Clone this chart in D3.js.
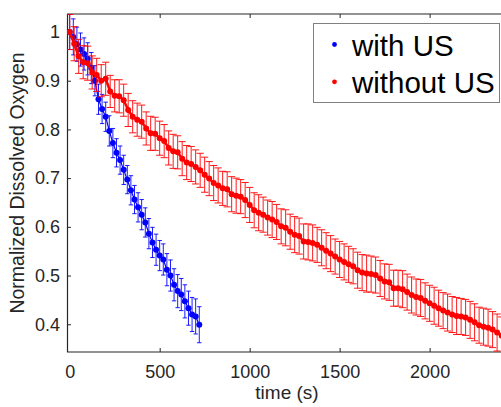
<!DOCTYPE html>
<meta charset="utf-8">
<style>
    html, body { margin: 0; padding: 0; background: #fff; }
    svg { display: block; }
    text { font-family: Arial, "Liberation Sans", sans-serif; }
</style>
<body>
<svg width="501" height="407"></svg>
<script src="https://cdn.jsdelivr.net/npm/d3@7"></script>
<script>
    // with US
    const blueTime = [0, 20, 40, 60, 80, 100, 120, 140, 160, 180, 200, 220, 240, 260, 280, 300, 320, 340, 360,
        380, 400, 420, 440, 460, 480, 500, 520, 540, 560, 580, 600, 620, 640, 660, 680, 700, 720];
    const blueMean = [1.000, 0.990, 0.975, 0.964, 0.955, 0.945, 0.926, 0.900, 0.862, 0.842, 0.826, 0.797, 0.772,
        0.752, 0.737, 0.717, 0.697, 0.675, 0.656, 0.640, 0.625, 0.609, 0.586, 0.568, 0.553, 0.541, 0.533, 0.512,
        0.500, 0.481, 0.468, 0.461, 0.447, 0.433, 0.420, 0.416, 0.399];
    const blueErr = [0.036, 0.037, 0.035, 0.034, 0.033, 0.033, 0.032, 0.031, 0.031, 0.030, 0.030, 0.031, 0.030,
        0.029, 0.029, 0.030, 0.029, 0.030, 0.029, 0.030, 0.031, 0.030, 0.031, 0.031, 0.032, 0.031, 0.032, 0.033,
        0.032, 0.033, 0.034, 0.033, 0.034, 0.035, 0.035, 0.036, 0.037];

    // without US
    const redTime = [0, 25, 50, 75, 100, 125, 150, 175, 200, 225, 250, 275, 300, 325, 350, 375, 400, 425, 450,
        475, 500, 525, 550, 575, 600, 625, 650, 675, 700, 725, 750, 775, 800, 825, 850, 875, 900, 925, 950, 975,
        1000, 1025, 1050, 1075, 1100, 1125, 1150, 1175, 1200, 1225, 1250, 1275, 1300, 1325, 1350, 1375, 1400,
        1425, 1450, 1475, 1500, 1525, 1550, 1575, 1600, 1625, 1650, 1675, 1700, 1725, 1750, 1775, 1800, 1825,
        1850, 1875, 1900, 1925, 1950, 1975, 2000, 2025, 2050, 2075, 2100, 2125, 2150, 2175, 2200, 2225, 2250,
        2275, 2300, 2325, 2350, 2375, 2400];
    const redMean = [1.000, 0.976, 0.950, 0.938, 0.936, 0.917, 0.912, 0.900, 0.904, 0.878, 0.869, 0.868, 0.860,
        0.840, 0.826, 0.820, 0.816, 0.802, 0.792, 0.791, 0.782, 0.776, 0.762, 0.755, 0.753, 0.740, 0.732, 0.729,
        0.723, 0.716, 0.707, 0.699, 0.690, 0.685, 0.679, 0.677, 0.667, 0.664, 0.662, 0.655, 0.645, 0.634, 0.629,
        0.625, 0.619, 0.615, 0.610, 0.601, 0.598, 0.590, 0.584, 0.581, 0.570, 0.569, 0.567, 0.563, 0.557, 0.551,
        0.545, 0.539, 0.533, 0.528, 0.523, 0.519, 0.511, 0.506, 0.504, 0.503, 0.501, 0.494, 0.488, 0.486, 0.474,
        0.474, 0.472, 0.466, 0.460, 0.456, 0.454, 0.448, 0.443, 0.438, 0.433, 0.428, 0.424, 0.420, 0.417, 0.416,
        0.414, 0.409, 0.404, 0.398, 0.395, 0.393, 0.389, 0.383, 0.377];
    const redErr = [0.036, 0.035, 0.035, 0.034, 0.035, 0.034, 0.034, 0.033, 0.034, 0.033, 0.033, 0.034, 0.033,
        0.034, 0.033, 0.034, 0.034, 0.034, 0.035, 0.034, 0.035, 0.034, 0.035, 0.035, 0.034, 0.035, 0.035, 0.036,
        0.035, 0.035, 0.036, 0.035, 0.036, 0.036, 0.035, 0.036, 0.036, 0.036, 0.035, 0.036, 0.036, 0.036, 0.037,
        0.036, 0.036, 0.037, 0.036, 0.036, 0.037, 0.036, 0.037, 0.037, 0.036, 0.037, 0.037, 0.036, 0.037, 0.037,
        0.037, 0.036, 0.037, 0.037, 0.037, 0.036, 0.037, 0.037, 0.038, 0.037, 0.037, 0.037, 0.036, 0.037, 0.037,
        0.037, 0.038, 0.037, 0.037, 0.037, 0.038, 0.037, 0.037, 0.038, 0.037, 0.037, 0.038, 0.037, 0.038, 0.037,
        0.037, 0.038, 0.038, 0.037, 0.038, 0.038, 0.037, 0.038, 0.038];

    const xTicks = [0, 500, 1000, 1500, 2000];
    const yTicks = [0.4, 0.5, 0.6, 0.7, 0.8, 0.9, 1.0];
    const seriesNames = ["with US", "without US"];
    const seriesColors = ["#0000ff", "#ff0000"];

    const svg = d3.select("svg");
    const plotLeft = 67, plotRight = 507, plotTop = 14, plotBottom = 352;
    const ink = "#262626";

    const x = d3.scaleLinear().domain([-15, 2430]).range([plotLeft, plotRight]);
    const y = d3.scaleLinear().domain([0.343, 1.037]).range([plotBottom, plotTop]);

    svg.append("clipPath").attr("id", "plot")
        .append("rect").attr("x", plotLeft).attr("y", plotTop)
        .attr("width", plotRight - plotLeft).attr("height", plotBottom - plotTop);

    // axes
    const xAxis = svg.append("g").attr("transform", `translate(0,${plotBottom})`)
        .call(d3.axisBottom(x).tickValues(xTicks).tickSizeInner(-4).tickSizeOuter(0).tickPadding(13)
            .tickFormat(d3.format("d")));
    const xAxisTop = svg.append("g").attr("transform", `translate(0,${plotTop})`)
        .call(d3.axisTop(x).tickValues(xTicks).tickSizeInner(-4).tickSizeOuter(0).tickFormat(""));
    const yAxis = svg.append("g").attr("transform", `translate(${plotLeft},0)`)
        .call(d3.axisLeft(y).tickValues(yTicks).tickSizeInner(-4).tickSizeOuter(0).tickPadding(7)
            .tickFormat(v => v === 1 ? "1" : v.toFixed(1)));

    [xAxis, xAxisTop, yAxis].forEach(g => {
        g.select(".domain").remove();
        g.selectAll("line").attr("stroke", ink);
        g.selectAll("text").attr("fill", ink).style("font-size", "18px")
            .style("font-family", "Arial, 'Liberation Sans', sans-serif");
    });
    xAxis.selectAll(".tick line").filter(d => d === 0).remove();
    xAxisTop.selectAll(".tick line").filter(d => d === 0).remove();

    // frame
    svg.append("path")
        .attr("d", `M${plotLeft},${plotBottom}H${plotRight}M${plotLeft},${plotTop}H${plotRight}M${plotLeft + 0.5},${plotTop}V${plotBottom}`)
        .attr("stroke", ink).attr("stroke-width", 1.2).attr("fill", "none");

    // labels
    svg.append("text").attr("x", 287).attr("y", 399).attr("text-anchor", "middle")
        .attr("fill", ink).style("font-size", "19px").text("time (s)");
    svg.append("text").attr("transform", "translate(24,183) rotate(-90)").attr("text-anchor", "middle")
        .attr("fill", ink).style("font-size", "19.5px").text("Normalized Dissolved Oxygen");

    // series
    const plot = svg.append("g").attr("clip-path", "url(#plot)");
    const series = [
        { time: blueTime, mean: blueMean, err: blueErr, color: seriesColors[0], cap: 2.2, lw: 1.2 },
        { time: redTime, mean: redMean, err: redErr, color: seriesColors[1], cap: 3.6, lw: 2.5 }
    ];

    series.forEach(s => {
        const pts = s.time.map((t, i) => ({ t: t, m: s.mean[i], e: s.err[i] }));
        const g = plot.append("g");
        g.selectAll("path.bar").data(pts).join("path")
            .attr("d", d => {
                const px = x(d.t), y0 = y(d.m + d.e), y1 = y(d.m - d.e);
                return `M${px},${y0}V${y1}M${px - s.cap},${y0}H${px + s.cap}M${px - s.cap},${y1}H${px + s.cap}`;
            })
            .attr("stroke", s.color).attr("stroke-width", 1).attr("stroke-opacity", 0.9).attr("fill", "none");
        g.append("path").datum(pts)
            .attr("d", d3.line().x(d => x(d.t)).y(d => y(d.m)))
            .attr("stroke", s.color).attr("stroke-width", s.lw).attr("fill", "none");
        g.selectAll("circle").data(pts).join("circle")
            .attr("cx", d => x(d.t)).attr("cy", d => y(d.m)).attr("r", 3)
            .attr("fill", s.color);
    });

    // legend
    const legend = svg.append("g");
    legend.append("rect").attr("x", 313.5).attr("y", 23.5).attr("width", 186).attr("height", 79)
        .attr("fill", "#fff").attr("stroke", "#808080").attr("stroke-width", 1);
    seriesNames.forEach((name, i) => {
        const cy = 44.5 + i * 37.3;
        legend.append("circle").attr("cx", 334.5).attr("cy", cy).attr("r", 2.4).attr("fill", seriesColors[i]);
        legend.append("text").attr("x", 352).attr("y", cy + 11.5).attr("fill", "#000")
            .style("font-size", "29.5px").text(name);
    });
</script>
</body>
